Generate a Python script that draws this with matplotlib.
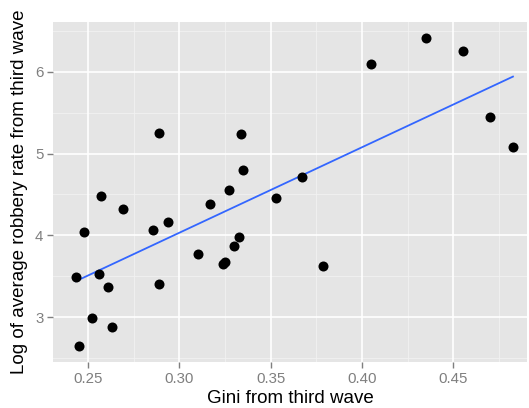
import numpy as np
import matplotlib
matplotlib.use("Agg")
import matplotlib.pyplot as plt

plt.rcParams['font.family'] = ['Liberation Sans', 'DejaVu Sans']

gini = [0.2433, 0.2451, 0.2480, 0.2520, 0.2560, 0.2570, 0.2608, 0.2630, 0.2690,
        0.2858, 0.2889, 0.2891, 0.2940, 0.3101, 0.3168, 0.3241, 0.3250, 0.3271,
        0.3301, 0.3329, 0.3340, 0.3351, 0.3530, 0.3672, 0.3789, 0.4050, 0.4351,
        0.4552, 0.4702, 0.4827]
log_robbery = [3.486, 2.65, 4.045, 2.99, 3.525, 4.485, 3.37, 2.88, 4.32,
               4.06, 3.40, 5.25, 4.16, 3.77, 4.38, 3.65, 3.67, 4.56,
               3.87, 3.975, 5.243, 4.795, 4.456, 4.713, 3.63, 6.10, 6.417,
               6.253, 5.443, 5.08]
x_ticks = [0.25, 0.30, 0.35, 0.40, 0.45]
x_ticklabels = ["0.25", "0.30", "0.35", "0.40", "0.45"]
y_ticks = [3, 4, 5, 6]
y_ticklabels = ["3", "4", "5", "6"]

x = np.array(gini)
y = np.array(log_robbery)

fig = plt.figure(figsize=(5.29, 4.08), dpi=100)
W, H = 529, 408
left, right, top, bottom = 53, 527, 22, 362
ax = fig.add_axes([left / W, 1 - bottom / H, (right - left) / W, (bottom - top) / H])
ax.set_facecolor('#E5E5E5')
for s in ax.spines.values():
    s.set_visible(False)

ax.set_xlim(0.2308, 0.4904)
ax.set_ylim(2.45, 6.61)

# minor grid
for v in [0.275, 0.325, 0.375, 0.425, 0.475]:
    ax.axvline(v, color='#F2F2F2', lw=0.6, zorder=0)
for v in [2.5, 3.5, 4.5, 5.5, 6.5]:
    ax.axhline(v, color='#F2F2F2', lw=0.6, zorder=0)
# major grid
for v in x_ticks:
    ax.axvline(v, color='white', lw=1.2, zorder=0.5)
for v in y_ticks:
    ax.axhline(v, color='white', lw=1.2, zorder=0.5)

ax.scatter(x, y, s=52, color='black', zorder=3, linewidths=0)

coef = np.polyfit(x, y, 1)
xs = np.array([x.min(), x.max()])
ax.plot(xs, np.polyval(coef, xs), color='#3366FF', lw=1.3, zorder=2)

ax.set_xticks(x_ticks)
ax.set_xticklabels(x_ticklabels)
ax.set_yticks(y_ticks)
ax.set_yticklabels(y_ticklabels)
ax.tick_params(axis='both', colors='#7F7F7F', labelcolor='#7F7F7F', length=4,
               width=1, labelsize=10.8, pad=3)

ax.set_xlabel("Gini from third wave", fontsize=13.5, color='black', labelpad=3)
ax.set_ylabel("Log of average robbery rate from third wave", fontsize=13.5,
              color='black', labelpad=5)

fig.savefig("out.png", dpi=100)
